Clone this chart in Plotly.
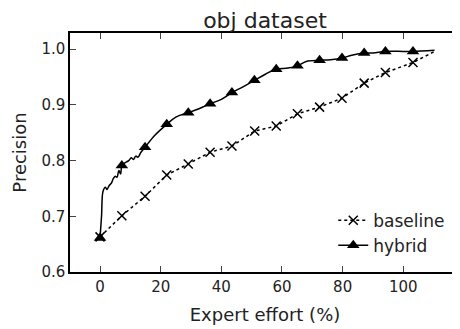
import plotly.graph_objects as go

# Baseline (x markers, dotted line)
base_x = [0, 7.2, 14.85, 22, 29.1, 36.3, 43.5, 51.0, 58.1, 65.1, 72.4, 79.8, 87.1, 94.1, 103.2, 110.0]
base_y = [0.663, 0.701, 0.736, 0.774, 0.794, 0.815, 0.826, 0.853, 0.862, 0.884, 0.896, 0.912, 0.939, 0.958, 0.976, 0.995]
base_marker_x = base_x[:-1]
base_marker_y = base_y[:-1]

# Hybrid curve (solid line)
hyb_line_x = [0, 0.5, 1.0, 1.8, 2.3, 3.0, 3.8, 4.4, 5.0, 5.6, 6.2, 6.8, 7.2, 8.5, 9.5, 10.3, 11.0, 11.8,
              12.5, 13.5, 14.85, 18, 22, 25, 29.1, 33, 36.3, 40, 43.5, 47, 50.9, 54.5, 58.1, 62, 65.1,
              68, 72.4, 76, 79.8, 83, 87.1, 90, 94.1, 100, 103.2, 110.3]
hyb_line_y = [0.661, 0.70, 0.745, 0.752, 0.748, 0.755, 0.760, 0.768, 0.772, 0.770, 0.782, 0.776, 0.791,
              0.797, 0.800, 0.805, 0.802, 0.808, 0.806, 0.815, 0.824, 0.845, 0.865, 0.878, 0.886, 0.894,
              0.902, 0.910, 0.922, 0.932, 0.944, 0.955, 0.964, 0.966, 0.970, 0.978, 0.980, 0.981, 0.984,
              0.989, 0.993, 0.993, 0.996, 0.996, 0.996, 0.998]
# Hybrid triangle markers
hyb_marker_x = [0, 7.2, 14.85, 22, 29.1, 36.3, 43.5, 50.9, 58.1, 65.1, 72.4, 79.8, 87.1, 94.1, 103.2]
hyb_marker_y = [0.661, 0.791, 0.824, 0.865, 0.886, 0.902, 0.922, 0.944, 0.964, 0.970, 0.980, 0.984, 0.993, 0.996, 0.996]

x_ticks = [0, 20, 40, 60, 80, 100]
y_ticks = [0.6, 0.7, 0.8, 0.9, 1.0]
y_tick_labels = ["0.6", "0.7", "0.8", "0.9", "1.0"]

FONT = "DejaVu Sans"
fig = go.Figure()

fig.add_trace(go.Scatter(x=base_x, y=base_y, mode="lines", showlegend=False,
                         line=dict(color="black", width=1.5, dash="dot")))
fig.add_trace(go.Scatter(x=base_marker_x, y=base_marker_y, mode="markers", showlegend=False,
                         marker=dict(symbol="x-thin", size=9, line=dict(color="black", width=1.5))))
fig.add_trace(go.Scatter(x=hyb_line_x, y=hyb_line_y, mode="lines", showlegend=False,
                         line=dict(color="black", width=1.5), line_shape="spline"))
fig.add_trace(go.Scatter(x=hyb_marker_x, y=hyb_marker_y, mode="markers", showlegend=False,
                         marker=dict(symbol="triangle-up", size=11, color="black")))

# legend entries
fig.add_trace(go.Scatter(x=[None], y=[None], mode="lines+markers", name="baseline",
                         line=dict(color="black", width=1.5, dash="dot"),
                         marker=dict(symbol="x-thin", size=9, line=dict(color="black", width=1.5))))
fig.add_trace(go.Scatter(x=[None], y=[None], mode="lines+markers", name="hybrid",
                         line=dict(color="black", width=1.5),
                         marker=dict(symbol="triangle-up", size=11, color="black")))

# page body has an 8px margin, so the figure is 8px smaller and offset
fig.update_layout(
    width=452, height=321,
    margin=dict(l=62, r=0, t=25, b=57, autoexpand=False),
    paper_bgcolor="white", plot_bgcolor="white",
    font=dict(family=FONT, color="#222222", size=15),
    title=dict(text="obj dataset", x=0.5, xanchor="center", xref="paper", y=1 - 12 / 321, yanchor="middle",
               font=dict(size=22, family=FONT, color="#222222")),
    legend=dict(x=0.975, xanchor="right", y=0.29, yanchor="top", bgcolor="rgba(0,0,0,0)",
                font=dict(size=17, family=FONT), tracegroupgap=0),
)
fig.update_xaxes(range=[-9.9, 118.7], tickvals=x_ticks, ticks="inside", ticklen=6, tickwidth=1.2,
                 showline=True, linecolor="black", linewidth=1.5, mirror="ticks", showgrid=False,
                 zeroline=False, tickfont=dict(size=15), automargin=False,
                 title=dict(text="Expert effort (%)", font=dict(size=18), standoff=14))
fig.update_yaxes(range=[0.6, 1.029], tickvals=y_ticks, ticktext=y_tick_labels, ticks="inside", ticklen=6,
                 tickwidth=1.2, showline=True, linecolor="black", linewidth=1.5, mirror="ticks",
                 showgrid=False, zeroline=False, tickfont=dict(size=15), automargin=False,
                 title=dict(text="Precision", font=dict(size=18), standoff=10))

fig.write_html("out.html")
